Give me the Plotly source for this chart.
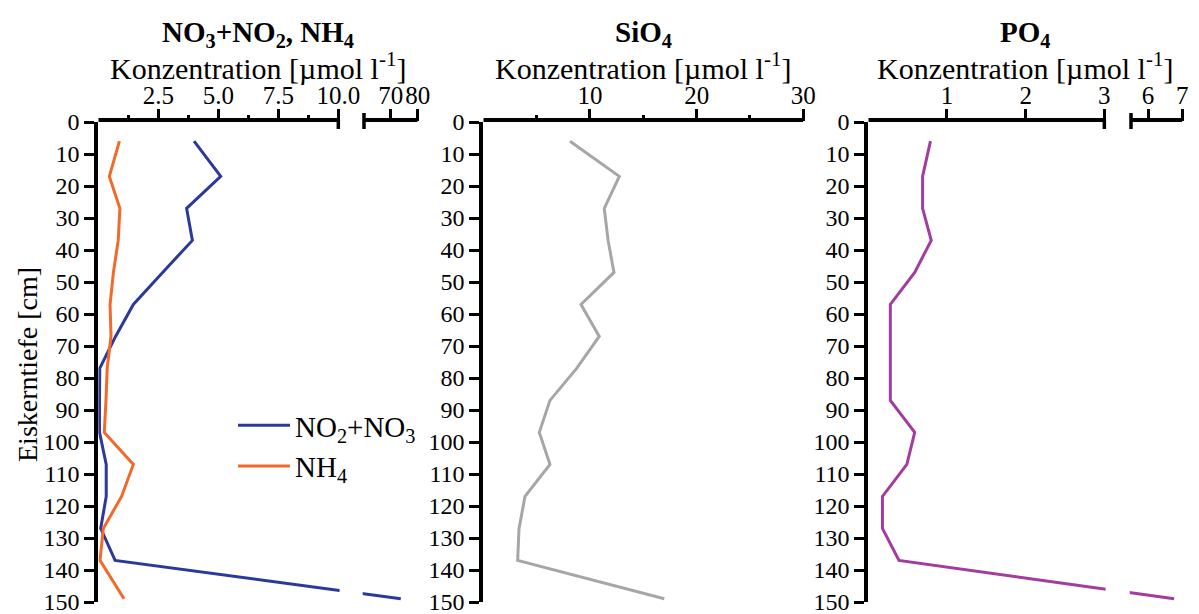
import plotly.graph_objects as go

# Ice-core nutrient profiles: depth below ice surface (cm) and concentrations (µmol/l)
depth_cm = [6, 17, 27, 37, 47, 57, 67, 77, 87, 97, 107, 117, 127, 137, 149]
no2_no3 = [3.99, 5.10, 3.68, 3.92, 2.68, 1.46, 0.72, 0.06, 0.05, 0.05, 0.33, 0.33, 0.10, 0.70, 73.7]
nh4 = [0.88, 0.46, 0.90, 0.83, 0.63, 0.49, 0.53, 0.37, 0.32, 0.25, 1.46, 0.97, 0.21, 0.07, 1.07]
sio4 = [8.13, 12.75, 11.34, 11.70, 12.25, 9.16, 10.87, 8.75, 6.25, 5.25, 6.25, 3.91, 3.35, 3.22, 16.97]
po4 = [0.79, 0.69, 0.69, 0.80, 0.59, 0.28, 0.28, 0.28, 0.28, 0.59, 0.49, 0.18, 0.18, 0.39, 6.76]

depth_ticks = list(range(0, 151, 10))
n_major = [2.5, 5.0, 7.5, 10.0, 70, 80]
n_major_text = ["2.5", "5.0", "7.5", "10.0", "70", "80"]
n_minor = [1.25, 3.75, 6.25, 8.75]
si_major = [10, 20, 30]
si_minor = [5, 15, 25]
p_major = [1, 2, 3, 6, 7]

W, H = 1199, 614
M_T, M_B = 122, 12
FONT = "Liberation Serif"
BLACK = "black"


class BrokenScale:
    """Piecewise-linear map for an axis with a break between lo_end and hi_start."""

    def __init__(self, lo_end, hi_start, hi_end, gap, hi_scale):
        self.lo_end, self.hi_start, self.hi_end = lo_end, hi_start, hi_end
        self.gap, self.hi_scale = gap, hi_scale

    def __call__(self, v):
        if v <= self.lo_end:
            return v
        return self.lo_end + self.gap + (v - self.hi_start) * self.hi_scale

    def many(self, vals):
        return [self(v) for v in vals]

    @property
    def top(self):
        return self(self.hi_end)


n_scale = BrokenScale(10.0, 60.0, 80.0, 1.07, 0.1119)
p_scale = BrokenScale(3.0, 5.5, 7.0, 0.339, 0.4346)

dom1 = [98.3 / W, 417.7 / W]
dom2 = [483.3 / W, 803.3 / W]
dom3 = [868.3 / W, 1182.3 / W]

fig = go.Figure()
line_w = 3
fig.add_trace(go.Scatter(x=n_scale.many(no2_no3), y=depth_cm, mode="lines",
                         name="NO<sub>2</sub>+NO<sub>3</sub>",
                         line=dict(color="#2B3A98", width=line_w), xaxis="x", yaxis="y"))
fig.add_trace(go.Scatter(x=n_scale.many(nh4), y=depth_cm, mode="lines",
                         name="NH<sub>4</sub>",
                         line=dict(color="#F26A2A", width=line_w), xaxis="x", yaxis="y"))
fig.add_trace(go.Scatter(x=sio4, y=depth_cm, mode="lines", showlegend=False,
                         line=dict(color="#A6A6A6", width=line_w), xaxis="x2", yaxis="y2"))
fig.add_trace(go.Scatter(x=p_scale.many(po4), y=depth_cm, mode="lines", showlegend=False,
                         line=dict(color="#A33CA0", width=line_w), xaxis="x3", yaxis="y3"))

xtickfont = dict(family=FONT, size=25, color=BLACK)
ytickfont = dict(family=FONT, size=24, color=BLACK)


def x_axis(domain, rng, tickvals, ticktext, minor_vals, anchor):
    ax = dict(domain=domain, range=rng, side="top", anchor=anchor, automargin=False,
              showline=False, showgrid=False, zeroline=False,
              tickmode="array", tickvals=tickvals, ticktext=ticktext, tickangle=0,
              ticks="outside", ticklen=12, tickwidth=3, tickcolor=BLACK,
              tickfont=xtickfont, ticklabelstandoff=-5, ticklabeloverflow="allow",
              fixedrange=True)
    if minor_vals:
        ax["minor"] = dict(tickmode="array", tickvals=minor_vals, ticks="outside",
                           ticklen=6, tickwidth=3, tickcolor=BLACK, showgrid=False)
    return ax


def y_axis(anchor):
    return dict(domain=[0, 1], range=[150, 0], anchor=anchor, automargin=False,
                showline=True, linewidth=4, linecolor=BLACK,
                showgrid=False, zeroline=False,
                tickmode="array", tickvals=depth_ticks, tickangle=0,
                ticks="outside", ticklen=10, tickwidth=3, tickcolor=BLACK,
                tickfont=ytickfont, ticklabeloverflow="allow", fixedrange=True)


layout = dict(
    width=W, height=H, autosize=False,
    margin=dict(l=0, r=0, t=M_T, b=M_B, pad=0, autoexpand=False),
    paper_bgcolor="white", plot_bgcolor="white",
    font=dict(family=FONT, color=BLACK),
    xaxis=x_axis(dom1, [0, n_scale.top], n_scale.many(n_major), n_major_text,
                 n_scale.many(n_minor), "y"),
    xaxis2=x_axis(dom2, [0, 30], si_major, [str(v) for v in si_major], si_minor, "y2"),
    xaxis3=x_axis(dom3, [0, p_scale.top], p_scale.many(p_major), [str(v) for v in p_major],
                  None, "y3"),
    yaxis=y_axis("x"), yaxis2=y_axis("x2"), yaxis3=y_axis("x3"),
    showlegend=True,
    legend=dict(x=233 / W, y=0.421, xanchor="left", yanchor="top",
                bgcolor="rgba(0,0,0,0)", font=dict(family=FONT, size=29, color=BLACK),
                itemwidth=52, tracegroupgap=0),
)
fig.update_layout(**layout)

shapes = []


def top_line(xref, a, b):
    shapes.append(dict(type="line", xref=xref, yref="paper", ysizemode="pixel", yanchor=1,
                       x0=a, x1=b, y0=2, y1=2, layer="above",
                       line=dict(color=BLACK, width=4)))


def broken_axis_shapes(xref, yref, scale):
    gap_lo = scale.lo_end
    gap_hi = scale.lo_end + scale.gap
    # white mask hides the data line inside the break
    shapes.append(dict(type="rect", xref=xref, yref=yref, x0=gap_lo + 0.004 * scale.top,
                       x1=gap_hi - 0.004 * scale.top, y0=0, y1=150, layer="above",
                       fillcolor="white", line=dict(width=0)))
    # two segments of the top axis line
    top_line(xref, 0, gap_lo)
    top_line(xref, gap_hi, scale.top)
    # end caps at the break
    for xv, up in [(gap_lo, 3), (gap_hi, 9)]:
        shapes.append(dict(type="line", xref=xref, yref="paper", ysizemode="pixel", yanchor=1,
                           x0=xv, x1=xv, y0=-7, y1=up, layer="above",
                           line=dict(color=BLACK, width=3.5)))


broken_axis_shapes("x", "y", n_scale)
broken_axis_shapes("x3", "y3", p_scale)
top_line("x2", 0, 30)


def py(p):
    return 1 + (M_T - p) / (H - M_T - M_B)


annotations = []
titles = ["NO<sub>3</sub>+NO<sub>2</sub>, NH<sub>4</sub>", "SiO<sub>4</sub>", "PO<sub>4</sub>"]
for dom, title in zip([dom1, dom2, dom3], titles):
    cx = (dom[0] + dom[1]) / 2
    annotations.append(dict(text="<b>" + title + "</b>", x=cx, y=py(34), xref="paper", yref="paper",
                            xanchor="center", yanchor="middle", showarrow=False,
                            font=dict(family=FONT, size=29, color=BLACK)))
    annotations.append(dict(text="Konzentration [µmol l<sup>-1</sup>]", x=cx, y=py(66),
                            xref="paper", yref="paper", xanchor="center", yanchor="middle",
                            showarrow=False, font=dict(family=FONT, size=30, color=BLACK)))
annotations.append(dict(text="Eiskerntiefe [cm]", x=27 / W, y=py(365), xref="paper", yref="paper",
                        xanchor="center", yanchor="middle", textangle=-90, showarrow=False,
                        font=dict(family=FONT, size=28, color=BLACK)))

fig.update_layout(shapes=shapes, annotations=annotations)
fig.write_html("out.html", post_script="document.body.style.margin = '0';")
